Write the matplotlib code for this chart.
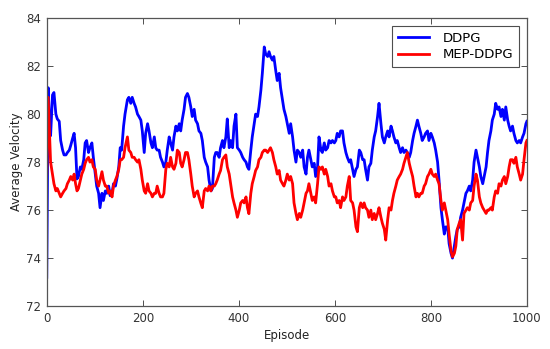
import matplotlib
matplotlib.use("Agg")
import matplotlib.pyplot as plt

# Values
episodes = [
    0, 3, 5, 8, 12, 15, 19, 22, 26, 29, 33, 36, 40, 43, 47, 50, 54, 57, 60, 63,
    66, 70, 73, 77, 80, 83, 87, 90, 94, 97, 101, 104, 108, 111, 115, 118, 122, 125, 129, 132,
    136, 139, 143, 146, 150, 153, 156, 160,
    163, 168, 171, 175, 178, 182, 185, 189, 192, 196, 199, 203, 206, 210, 213, 217, 220, 224, 227, 230,
    234, 237, 241, 244, 248, 251, 255, 258, 262, 265, 269, 272, 276, 279, 282, 286, 289, 293, 296, 300,
    303, 307, 310, 314, 317, 321, 324,
    328, 331, 335, 338, 342, 345, 349, 352, 355, 359, 362, 366, 369, 373, 376, 380, 383, 387, 390, 394,
    397, 401, 404, 408, 411, 415, 418, 421, 425, 428, 432, 435, 439, 442, 446, 449, 453, 456, 460, 463,
    466, 470, 473, 477, 480, 484, 487, 491,
    494, 498, 501, 505, 508, 512, 515, 519, 522, 526, 529, 533, 536, 540, 543, 546, 550, 553, 557, 560,
    564, 567, 571, 574, 578, 581, 585, 588, 592, 595, 599, 602, 605, 609, 612, 616, 619, 623, 626, 630,
    633, 637, 640, 644, 647, 651, 654, 658,
    661, 664, 668, 671, 675, 678, 682, 685, 689, 692, 696, 699, 703, 706, 710, 713, 717, 720, 723, 727,
    730, 734, 737, 741, 744, 748, 751, 755, 758, 762, 765, 769, 772, 775, 779, 782, 786, 789, 793, 796,
    800, 803, 807, 810, 814, 817, 821, 824,
    828, 831, 835, 838, 842, 845, 849, 852, 855, 859, 862, 866, 869, 873, 876, 880, 883, 887, 890, 894,
    897, 901, 904, 908, 911, 915, 918, 921, 925, 928, 932, 935, 939, 942, 946, 949, 953, 956, 960, 963,
    966, 970, 973, 977, 980, 984, 987, 991, 994, 998, 1000,
]

ddpg = [
    73.2, 81.1, 80.0, 79.1, 80.8, 80.9, 80.0, 79.8, 79.7, 78.9, 78.5, 78.3, 78.3, 78.4, 78.5, 78.7, 79.0, 79.2, 78.6, 77.3,
    77.4, 77.8, 77.7, 78.1, 78.8, 78.9, 78.4, 78.6, 78.8, 78.2, 77.5, 77.0, 76.7, 76.1, 76.7, 76.4, 76.8, 76.7, 77.0, 76.6,
    76.7, 77.1, 77.0, 77.3, 77.8, 78.6, 78.5, 79.5,
    80.0, 80.6, 80.7, 80.45, 80.7, 80.45, 80.3, 80.0, 79.9, 79.75, 79.3, 78.4, 79.2, 79.6, 79.3, 78.8, 78.6, 79.05, 78.6, 78.5,
    78.5, 78.2, 78.0, 77.8, 78.0, 78.5, 79.05, 78.8, 78.5, 79.05, 79.5, 79.3, 79.6, 79.3, 79.75, 80.2, 80.7, 80.86, 80.7, 80.3,
    79.9, 80.2, 79.75, 79.6, 79.3, 79.2, 78.9,
    78.2, 78.0, 77.8, 77.25, 76.8, 76.9, 78.2, 78.4, 78.4, 78.2, 78.6, 78.9, 78.6, 79.05, 79.8, 78.6, 78.9, 78.6, 79.5, 80.0,
    78.6, 78.5, 78.4, 78.2, 78.1, 78.0, 77.8, 77.7, 78.5, 79.05, 79.6, 80.0, 79.9, 80.3, 81.0, 81.7, 82.8, 82.5, 82.4, 82.6,
    82.4, 82.25, 82.4, 81.8, 81.4, 81.7, 81.1, 80.6,
    80.2, 79.9, 79.6, 79.2, 79.6, 79.05, 78.5, 78.0, 78.5, 78.4, 78.2, 78.5, 77.8, 77.5, 78.2, 78.5, 78.1, 77.8, 77.95, 77.4,
    77.8, 79.05, 78.5, 78.4, 78.8, 78.5, 78.6, 78.9, 78.8, 78.9, 78.8, 78.9, 79.2, 79.05, 79.3, 79.3, 78.8, 78.4, 78.2, 78.0,
    78.1, 77.7, 77.4, 77.7, 77.8, 78.5, 78.4, 78.1,
    78.1, 77.7, 77.25, 77.8, 77.95, 78.5, 79.05, 79.3, 79.9, 80.45, 79.6, 79.05, 78.8, 79.05, 79.3, 79.05, 79.5, 79.3, 79.05, 78.8,
    78.9, 78.6, 78.4, 78.6, 78.4, 78.5, 78.4, 78.2, 78.4, 78.9, 79.2, 79.5, 79.75, 79.5, 79.2, 78.9, 79.05, 79.2, 79.3, 78.9,
    79.2, 79.05, 78.8, 78.5, 78.0, 77.25, 76.1, 75.6,
    75.0, 75.3, 75.3, 74.6, 74.2, 74.0, 74.5, 74.9, 75.2, 75.3, 75.7, 76.0, 76.3, 76.7, 76.8, 77.0, 76.8, 77.25, 78.0, 78.5,
    78.2, 77.8, 77.4, 77.1, 77.4, 77.8, 78.4, 78.9, 79.3, 79.75, 80.0, 80.45, 80.2, 80.3, 79.9, 80.2, 79.75, 80.3, 79.75, 79.5,
    79.3, 79.5, 79.2, 78.9, 78.8, 78.9, 78.8, 79.05, 79.2, 79.6, 79.7,
]

mep_ddpg = [
    77.5, 80.7, 79.6, 78.0, 77.5, 77.1, 76.8, 76.9, 76.7, 76.55, 76.7, 76.8, 76.9, 77.1, 77.25, 77.4, 77.25, 77.5, 77.1, 76.8,
    76.9, 77.25, 77.5, 77.7, 77.95, 78.1, 78.2, 78.0, 78.1, 77.8, 77.7, 77.25, 77.0, 77.25, 77.6, 77.25, 77.0, 77.0, 76.7, 76.8,
    76.55, 77.0, 77.25, 77.4, 77.7, 78.1, 78.1, 78.2,
    78.6, 79.05, 78.5, 78.4, 78.2, 78.2, 78.1, 78.0, 78.1, 77.7, 77.25, 76.8, 76.7, 77.1, 76.8, 76.7, 76.55, 76.7, 76.7, 77.0,
    76.7, 76.55, 76.55, 76.7, 77.7, 77.95, 77.8, 78.2, 77.8, 77.7, 77.95, 78.5, 78.4, 77.95, 77.8, 78.1, 78.4, 78.4, 78.1, 77.5,
    77.0, 76.55, 76.7, 76.8, 76.55, 76.28, 76.1,
    76.8, 76.9, 76.8, 77.0, 76.8, 77.0, 77.0, 77.1, 77.25, 77.5, 77.65, 78.1, 78.2, 78.3, 77.8, 77.5, 77.1, 76.55, 76.3, 76.0,
    75.7, 76.0, 76.3, 76.4, 76.3, 76.55, 76.1, 75.85, 76.7, 77.1, 77.4, 77.65, 77.8, 78.1, 78.2, 78.4, 78.5, 78.5, 78.4, 78.5,
    78.6, 78.4, 78.1, 77.8, 77.5, 77.65, 77.25, 77.1,
    77.0, 77.25, 77.5, 77.25, 77.4, 77.1, 76.3, 75.86, 75.6, 75.86, 75.7, 76.0, 76.3, 76.7, 76.8, 77.1, 76.7, 76.4, 76.55, 76.3,
    77.1, 77.8, 77.7, 77.8, 77.5, 77.7, 77.4, 77.0, 77.1, 76.8, 76.55, 76.55, 76.3, 76.4, 76.1, 76.55, 76.4, 76.55, 77.0, 77.4,
    76.4, 76.3, 76.0, 75.3, 75.1, 76.1, 76.3, 76.1,
    76.3, 76.1, 76.0, 75.7, 76.0, 75.6, 75.86, 75.6, 75.86, 76.1, 75.7, 75.45, 75.2, 74.75, 75.6, 76.1, 76.0, 76.4, 76.7, 77.0,
    77.25, 77.4, 77.5, 77.7, 77.95, 78.2, 78.4, 77.95, 77.7, 77.4, 77.0, 76.55, 76.7, 76.55, 76.7, 76.7, 77.0, 77.1, 77.4, 77.5,
    77.7, 77.5, 77.4, 77.5, 77.25, 77.1, 76.4, 76.0,
    76.3, 76.0, 75.6, 75.0, 74.3, 74.05, 74.2, 74.5, 75.2, 75.45, 75.6, 74.75, 75.86, 76.0, 76.1, 76.0, 76.3, 76.4, 77.0, 77.5,
    77.25, 76.55, 76.3, 76.1, 76.0, 75.86, 76.0, 76.0, 76.1, 76.0, 76.55, 76.8, 76.7, 77.1, 77.0, 77.25, 77.4, 77.1, 77.4, 77.8,
    78.1, 78.1, 77.95, 78.2, 77.8, 77.5, 77.25, 77.5, 78.1, 78.8, 78.9,
]

x_ticks = [0, 200, 400, 600, 800, 1000]
y_ticks = [72, 74, 76, 78, 80, 82, 84]


def main():
    fig = plt.figure(figsize=(5.5, 3.49), dpi=100)
    ax = fig.add_axes([0.085, 0.123, 0.873, 0.825])

    ax.plot(episodes, ddpg, color="#0000ff", lw=2.0, label="DDPG")
    ax.plot(episodes, mep_ddpg, color="#ff0000", lw=2.0, label="MEP-DDPG")

    ax.set_xlim(0, 1000)
    ax.set_ylim(72, 84)
    ax.set_xticks(x_ticks)
    ax.set_yticks(y_ticks)
    ax.tick_params(direction="in", top=True, right=True, labelsize=8.5,
                   length=4, width=0.6, colors="#333333", pad=4)
    for spine in ax.spines.values():
        spine.set_color("#555555")
        spine.set_linewidth(0.9)

    ax.set_xlabel("Episode", fontsize=8.5, color="#222222", labelpad=3)
    ax.set_ylabel("Average Velocity", fontsize=8.5, color="#222222", labelpad=2)

    leg = ax.legend(loc="upper right", fontsize=9.5, fancybox=False,
                    handlelength=2.4, borderpad=0.45, labelspacing=0.25,
                    borderaxespad=0.6, handletextpad=1.0)
    leg.get_frame().set_edgecolor("#222222")
    leg.get_frame().set_linewidth(0.8)

    fig.savefig("out.png", dpi=100)


if __name__ == "__main__":
    main()
